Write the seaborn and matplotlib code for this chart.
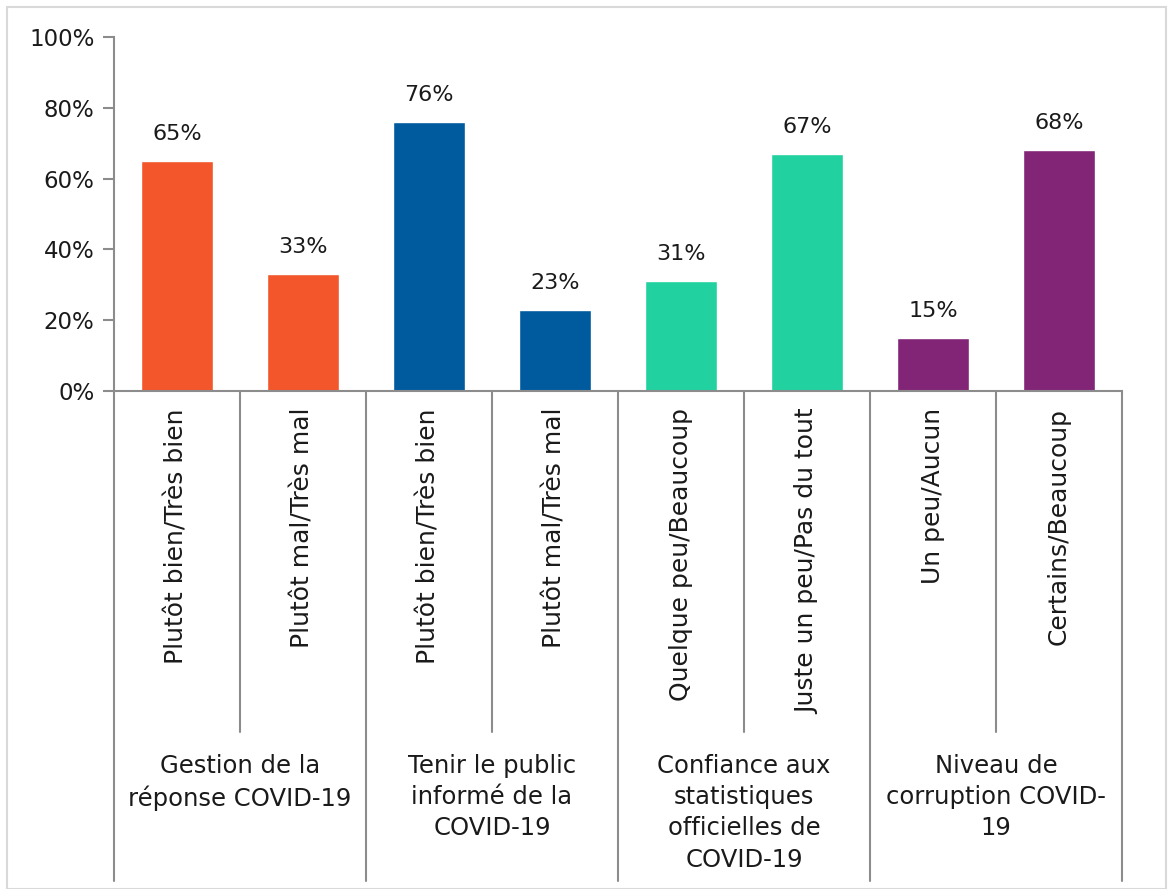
import matplotlib
matplotlib.use("Agg")
import matplotlib.pyplot as plt
import matplotlib.transforms as mtransforms
from matplotlib.patches import Rectangle
import seaborn as sns
import pandas as pd

# ---- data ----
groups = ["Gestion de la\nréponse COVID-19",
          "Tenir le public\ninformé de la\nCOVID-19",
          "Confiance aux\nstatistiques\nofficielles de\nCOVID-19",
          "Niveau de\ncorruption COVID-\n19"]
answers = ["Plutôt bien/Très bien", "Plutôt mal/Très mal",
           "Plutôt bien/Très bien", "Plutôt mal/Très mal",
           "Quelque peu/Beaucoup", "Juste un peu/Pas du tout",
           "Un peu/Aucun", "Certains/Beaucoup"]
answer_group = [0, 0, 1, 1, 2, 2, 3, 3]
values = [65, 33, 76, 23, 31, 67, 15, 68]
colors = ["#F2562A", "#005A9E", "#21D19F", "#822577"]

sns.set_theme(style="white")
plt.rcParams["font.family"] = ["DejaVu Sans"]

df = pd.DataFrame({
    "key": [f"{i}" for i in range(len(answers))],
    "answer": answers,
    "group": [groups[g] for g in answer_group],
    "value": values,
})

fig = plt.figure(figsize=(11.68, 8.89), dpi=100)
W, H = 1168, 889
ax = fig.add_axes([114 / W, 1 - 391 / H, (1122 - 114) / W, (391 - 37) / H])

sns.barplot(data=df, x="key", y="value", hue="group", palette=colors,
            dodge=False, width=0.57, ax=ax, legend=False, saturation=1)

txt = "#1a1a1a"
ax.set_ylim(0, 100)
ax.set_xlim(-0.5, len(answers) - 0.5)
ax.set_yticks(range(0, 101, 20))
ax.set_yticklabels([f"{v}%" for v in range(0, 101, 20)], fontsize=16.5, color=txt)
ax.set_xticks([])
ax.set_xlabel("")
ax.set_ylabel("")
gray = "#8c8c8c"
for s in ["top", "right"]:
    ax.spines[s].set_visible(False)
for s in ["left", "bottom"]:
    ax.spines[s].set_color(gray)
    ax.spines[s].set_linewidth(1.5)
ax.tick_params(axis="y", left=True, length=8, width=1.5, color=gray, pad=6)

# value labels
for i, v in enumerate(values):
    ax.text(i, v + 4.8, f"{v}%", ha="center", va="bottom", fontsize=16, color=txt)

trans = mtransforms.blended_transform_factory(ax.transData, ax.transAxes)
ax_h = 391 - 37
minor_end = -(732 - 391) / ax_h
major_end = -(881 - 391) / ax_h

# answer labels (rotated)
for i, a in enumerate(answers):
    ax.text(i, -(408 - 391) / ax_h, a, rotation=90, ha="center", va="top",
            fontsize=18, color=txt, transform=trans)

# separators
for b in range(len(answers) + 1):
    xb = b - 0.5
    end = major_end if b % 2 == 0 else minor_end
    ax.plot([xb, xb], [0, end], color=gray, lw=1.5, transform=trans, clip_on=False)

# group labels
for gi, g in enumerate(groups):
    center = 2 * gi + 0.5
    ax.text(center, -(754 - 391) / ax_h, g, ha="center", va="top", fontsize=17.5,
            color=txt, transform=trans, linespacing=1.38)

# figure frame
fig.patches.append(Rectangle((7 / W, 0.0), 1 - 7 / W - 2 / W, 1 - 7 / H, transform=fig.transFigure,
                             fill=False, edgecolor="#d9d9d9", lw=1.5))

fig.savefig("out.png", dpi=100)
